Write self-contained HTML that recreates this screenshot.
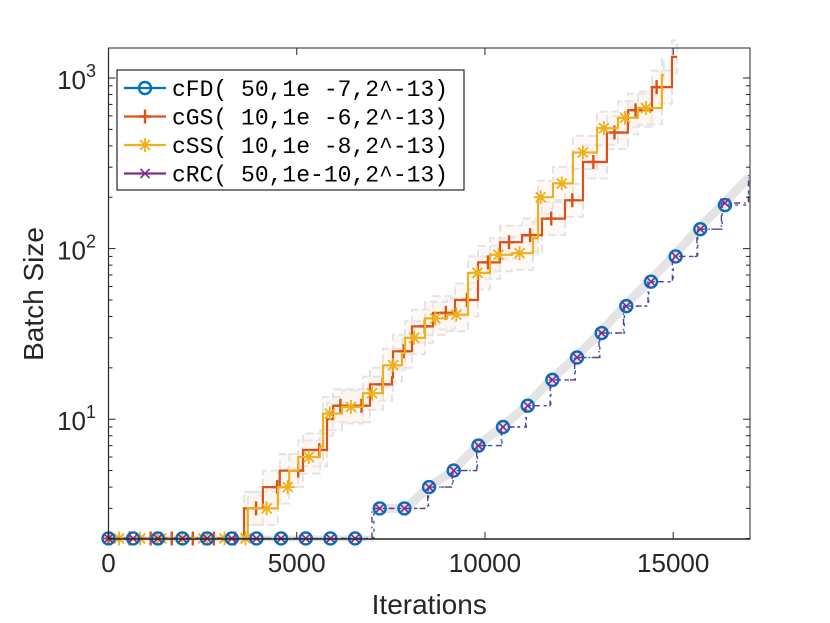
<!DOCTYPE html>
<html><head><meta charset="utf-8"><style>
html,body{margin:0;padding:0;background:#fff;}
svg{display:block;font-family:"Liberation Sans",Helvetica,Arial,sans-serif;}
</style></head><body>
<svg id="chart" width="830" height="623" viewBox="0 0 830 623" xmlns="http://www.w3.org/2000/svg">
<rect x="0" y="0" width="830" height="623" fill="#fff"/>
<g id="bands"></g><g id="series"></g><g id="axes"></g><g id="legend"></g>
</svg>
<script>
// ---- data ----
const xTicks = [0, 5000, 10000, 15000];
const xTickLabels = ["0", "5000", "10000", "15000"];
const yTicks = [10, 100, 1000];
const yTickExps = ["1", "2", "3"];
const cfdIters = [0, 7050, 7900, 8500, 9150, 9800, 10450, 11100, 11750, 12400, 13050, 13700, 14350, 15000, 15650, 16300, 17000];
const cfdVals  = [2, 3, 3, 4, 5, 7, 9, 12, 17, 23, 32, 46, 64, 90, 130, 180, 260];
const crcIters = [0, 7000, 7850, 8480, 9130, 9780, 10430, 11080, 11730, 12380, 13030, 13680, 14330, 14980, 15630, 16280, 17000];
const crcVals  = [2, 3, 3, 4, 5, 7, 9, 12, 17, 23, 32, 46, 64, 90, 130, 185, 270];
const cgsIters = [0, 3500, 3600, 4100, 4550, 5166, 5803, 5963, 6946, 7530, 7556, 8061, 8619, 9203, 9814, 10398, 10983, 11514, 12125, 12603, 13240, 13798, 14436, 14967, 15100];
const cgsVals  = [2, 2, 3, 4, 5, 6.6, 10, 12, 16, 17.6, 25, 35, 42, 50, 83, 109, 120, 150, 192, 322, 479, 647, 884, 1330, 1330];
const cssIters = [0, 3650, 3700, 4500, 4800, 5041, 5618, 5697, 6202, 6760, 7291, 7796, 7875, 8406, 8991, 9548, 10133, 10717, 11275, 11408, 11806, 12337, 12975, 13533, 14064, 14701, 14750];
const cssVals  = [2, 2, 3, 4, 5, 6, 6.9, 10.8, 11.8, 14.2, 20.7, 24.4, 30, 39, 41, 72, 92, 94, 115, 200, 241, 366, 508, 584, 667, 1040, 1040];

// ---- axes ----
const L=108.5, R=750, T=48, B=539;
const xMin=0, xMax=17040;
const yTop10=78, dec=170.6;
function X(v){return L+(v-xMin)/(xMax-xMin)*(R-L);}
function Y(v){return yTop10+(3-Math.log10(v))*dec;}
const NS="http://www.w3.org/2000/svg";
function mk(tag,attrs,parent){const e=document.createElementNS(NS,tag);for(const k in attrs)e.setAttribute(k,attrs[k]);parent.appendChild(e);return e;}
const gA=document.getElementById('axes'),gS=document.getElementById('series'),gB=document.getElementById('bands'),gL=document.getElementById('legend');

function stepPath(it,va,xEnd){
  let d="M"+X(it[0]).toFixed(1)+","+Y(va[0]).toFixed(1);
  for(let i=1;i<it.length;i++){d+="H"+X(it[i]).toFixed(1)+"V"+Y(va[i]).toFixed(1);}
  if(xEnd!==undefined)d+="H"+X(xEnd).toFixed(1);
  return d;
}
function linePath(it,va){
  let d="";
  for(let i=0;i<it.length;i++){d+=(i?"L":"M")+X(it[i]).toFixed(1)+","+Y(va[i]).toFixed(1);}
  return d;
}
function stepVal(it,va,x){let v=va[0];for(let i=0;i<it.length;i++){if(it[i]<=x)v=va[i];}return v;}

function band(it,va,lo,hi,name){
  let up="",dn=[];
  for(let i=0;i<it.length;i++){
    const x0=X(it[i]),x1=X(i+1<it.length?it[i+1]:it[i]);
    up+=(i?"L":"M")+x0.toFixed(1)+","+Y(Math.max(2,va[i]*hi)).toFixed(1)+"L"+x1.toFixed(1)+","+Y(Math.max(2,va[i]*hi)).toFixed(1);
    dn.push([x0,x1,Y(Math.max(2,va[i]*lo))]);
  }
  let d=up;
  for(let i=dn.length-1;i>=0;i--){d+="L"+dn[i][1].toFixed(1)+","+dn[i][2].toFixed(1)+"L"+dn[i][0].toFixed(1)+","+dn[i][2].toFixed(1);}
  d+="Z";
  const p=mk('path',{d:d,fill:'#fcefe5','fill-opacity':'0.35',stroke:'#e4e4e4','stroke-width':'2','stroke-dasharray':'8,4'},gB);
  
  
}
band(cgsIters.slice(2),cgsVals.slice(2),0.8,1.25,'cgs-band');
band(cssIters.slice(2),cssVals.slice(2),0.8,1.25,'css-band');
const cfdBand=mk('path',{d:linePath(cfdIters.slice(1),cfdVals.slice(1)),fill:'none',stroke:'#e4e4e4','stroke-width':'9','stroke-linejoin':'round'},gB);


mk('line',{x1:X(0),y1:Y(2),x2:X(7050),y2:Y(2),stroke:'#e4e4e4','stroke-width':6},gB);

function marker(type,x,y,c,g){
  if(type==='o'){mk('circle',{cx:x,cy:y,r:6,fill:'none',stroke:c,'stroke-width':2.4},g);}
  else if(type==='+'){mk('path',{d:`M${x-6},${y}H${x+6}M${x},${y-7}V${y+7}`,stroke:c,'stroke-width':2.4},g);}
  else if(type==='x'){mk('path',{d:`M${x-4.5},${y-4.5}L${x+4.5},${y+4.5}M${x-4.5},${y+4.5}L${x+4.5},${y-4.5}`,stroke:c,'stroke-width':1.6},g);}
  else {mk('path',{d:`M${x-7},${y}H${x+7}M${x},${y-7}V${y+7}M${x-5},${y-5}L${x+5},${y+5}M${x-5},${y+5}L${x+5},${y-5}`,stroke:c,'stroke-width':1.8},g);}
}
function series(it,va,color,type,name,dash,width,xEnd,mStep,mOff,mEnd){
  const g=mk('g',{},gS);
  
  
  mk('path',{d:stepPath(it,va,xEnd),fill:'none',stroke:color,'stroke-width':width,'stroke-dasharray':dash||'none'},g);
  for(let m=mOff;m<=mEnd;m+=mStep){marker(type,X(m),Y(stepVal(it,va,m)),color,g);}
}
series(cgsIters,cgsVals,'#d95319','+','series-cgs',null,2.2,15100,560,0,14900);
series(cssIters,cssVals,'#edb120','*','series-css',null,2.2,14750,560,280,14700);
series(cfdIters,cfdVals,'#0072bd','o','series-cfd','3,5',1.4,17000,655,0,17000);
series(crcIters,crcVals,'#7e2f8e','x','series-crc','6,4,1.5,4',1.4,17000,655,0,17000);

const box=mk('rect',{x:L,y:T,width:R-L,height:B-T,fill:'none',stroke:'#262626','stroke-width':1},gA);


mk('line',{x1:L,y1:B,x2:R,y2:B,stroke:'#262626','stroke-width':1.6},gA);
mk('line',{x1:L,y1:T,x2:L,y2:B,stroke:'#262626','stroke-width':1.2},gA);
xTicks.forEach((t,i)=>{
  const x=X(t);
  mk('line',{x1:x,y1:B,x2:x,y2:B-7,stroke:'#262626'},gA);
  mk('line',{x1:x,y1:T,x2:x,y2:T+7,stroke:'#262626'},gA);
  const tx=mk('text',{x:x,y:B+33,'text-anchor':'middle','font-size':'26',fill:'#262626'},gA);
  tx.textContent=xTickLabels[i];
  
  
});
for(let d=0;d<=3;d++){for(let k=1;k<10;k++){
  const v=k*Math.pow(10,d);const y=Y(v);
  if(y<T||y>B)continue;
  const len=k===1?7:4;
  mk('line',{x1:L,y1:y,x2:L+len,y2:y,stroke:'#262626'},gA);
  mk('line',{x1:R,y1:y,x2:R-len,y2:y,stroke:'#262626'},gA);
}}
yTicks.forEach((t,i)=>{
  const y=Y(t);
  const tx=mk('text',{x:96,y:y+11,'text-anchor':'end','font-size':'26',fill:'#262626'},gA);
  
  
  tx.appendChild(document.createTextNode('10'));
  const s=mk('tspan',{dy:'-12','font-size':'18'},tx);s.textContent=yTickExps[i];
});
const xt=mk('text',{x:(L+R)/2,y:614,'text-anchor':'middle','font-size':'28',fill:'#262626'},gA);
xt.textContent='Iterations';


const yt=mk('text',{x:0,y:0,'text-anchor':'middle','font-size':'28',fill:'#262626',transform:'translate(43,294) rotate(-90)'},gA);
yt.textContent='Batch Size';



const lb=mk('rect',{x:117,y:70,width:347,height:120,fill:'#fff',stroke:'#262626','stroke-width':1.2},gL);


const legNames=["cFD( 50,1e -7,2^-13)","cGS( 10,1e -6,2^-13)","cSS( 10,1e -8,2^-13)","cRC( 50,1e-10,2^-13)"];
const legColors=['#0072bd','#d95319','#edb120','#7e2f8e'];
const legTypes=['o','+','*','x'];
legNames.forEach((n,i)=>{
  const y=88+i*28.5;
  const g=mk('g',{},gL);
  
  
  mk('line',{x1:124,y1:y,x2:166,y2:y,stroke:legColors[i],'stroke-width':2.2},g);
  marker(legTypes[i],145,y,legColors[i],g);
  const t=mk('text',{x:172,y:y+8,'font-size':'23','font-family':'"Liberation Mono",monospace',fill:'#000'},g);
  t.textContent=n;
});
</script>
</body></html>
